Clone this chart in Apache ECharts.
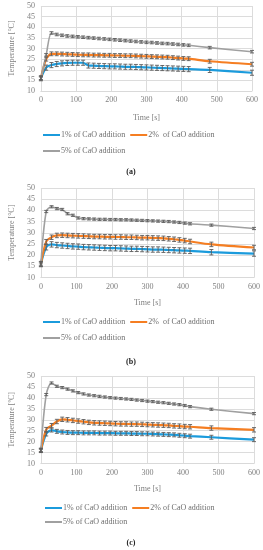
<!DOCTYPE html>
<html><head><meta charset="utf-8">
<script src="https://cdn.jsdelivr.net/npm/echarts@6/dist/echarts.min.js"></script>
<style>html,body{margin:0;padding:0;background:#fff}#c{width:263px;height:550px}</style>
</head><body><div id="c"></div>
<script>
var times = [0,15,30,45,60,75,90,105,120,135,150,165,180,195,210,225,240,255,270,285,300,315,330,345,360,375,390,405,420,480,600];
var seriesNames = ['1% of CaO addition', '2%  of CaO addition', '5% of CaO addition'];
var seriesNamesC = ['1% of CaO addition', '2% of CaO addition', '5% of CaO addition'];
var yTitles = ['Temperature [°C]', 'Temperature [°C]', 'Temperature [ºC]'];
var xTitle = 'Time [s]';
var captions = ['(a)', '(b)', '(c)'];

// panel (a)
var a1 = [16,21,22.2,22.7,23,23.2,23.3,23.3,23.3,22,21.9,21.8,21.7,21.6,21.6,21.5,21.4,21.4,21.3,21.2,21.1,21,20.9,20.8,20.7,20.6,20.5,20.4,20.3,19.9,18.6];
var a2 = [16,25,27.5,27.5,27.4,27.3,27.2,27.1,27,27,26.9,26.9,26.8,26.8,26.7,26.7,26.6,26.6,26.5,26.4,26.3,26.2,26.1,26,25.9,25.7,25.5,25.3,25.2,24,22.6];
var a3 = [16,27,37.3,36.6,36.2,35.9,35.7,35.5,35.3,35.1,34.9,34.7,34.5,34.3,34.1,33.9,33.7,33.5,33.3,33.1,32.9,32.8,32.6,32.4,32.3,32.1,31.9,31.7,31.5,30.4,28.5];
var aErr = [1.2, 0.9, 0.6];
// panel (b)
var b1 = [16,23.5,24.8,24.5,24.3,24.1,23.9,23.8,23.6,23.5,23.4,23.3,23.2,23.1,23.1,23,22.9,22.8,22.8,22.7,22.6,22.5,22.5,22.4,22.3,22.2,22.1,22,21.9,21.3,20.7];
var b2 = [16,26,28,28.8,28.9,28.8,28.7,28.6,28.5,28.4,28.3,28.3,28.2,28.2,28.1,28.1,28,28,27.9,27.8,27.8,27.7,27.6,27.5,27.3,27.1,26.8,26.5,26.1,24.8,23.4];
var b3 = [16,39.5,41.6,40.8,40.4,38.5,37.8,36.6,36.3,36.2,36.1,36,36,35.9,35.9,35.8,35.8,35.7,35.6,35.5,35.4,35.3,35.2,35.1,35,34.8,34.6,34.3,34,33.4,31.9];
var bErr = [1.2, 1.0, 0.5];
// panel (c)
var c1 = [16,23.5,25.3,24.7,24.4,24.2,24.1,24.1,24,24,24,23.9,23.9,23.9,23.8,23.8,23.8,23.7,23.7,23.6,23.6,23.5,23.4,23.3,23.2,23.1,22.9,22.7,22.5,22,20.9];
var c2 = [16,25.5,27.3,29.2,30.2,30,29.7,29.4,29.1,28.8,28.6,28.5,28.4,28.3,28.2,28.1,28.1,28,28,27.9,27.8,27.7,27.6,27.5,27.4,27.2,27.1,26.9,26.8,26.2,25.4];
var c3 = [16,41.5,46.8,45.3,44.7,44,43.2,42.4,41.8,41.3,41,40.7,40.4,40.1,39.9,39.7,39.5,39.3,39,38.8,38.5,38.3,38,37.8,37.5,37.2,36.9,36.5,36,34.8,32.8];
var cErr = [0.9, 1.0, 0.5];

var colors = ['#1B9BDC', '#F57E22', '#A0A0A0'];
var errColor = '#5A5A5A';
var FONT = '"Liberation Serif", serif';
var txtColor = '#7F7F7F';

var panels = [
  {vals:[a1,a2,a3], err:aErr, names:seriesNames, grid:{left:30,right:11,top:6,height:85}, xGap:23, leg:[131,147], legLeft:43, cap:172},
  {vals:[b1,b2,b3], err:bErr, names:seriesNames, grid:{left:28,right:8,top:188,height:89.5}, xGap:21, leg:[318,334], legLeft:43, cap:362},
  {vals:[c1,c2,c3], err:cErr, names:seriesNamesC, grid:{left:28,right:8,top:376,height:87.5}, xGap:21, leg:[504,518], legLeft:45, cap:543}
];

var grids=[], xAxes=[], yAxes=[], series=[], legends=[], graphics=[];
panels.forEach(function(p, i){
  grids.push(Object.assign({containLabel:false}, p.grid));
  xAxes.push({type:'value', gridIndex:i, min:0, max:600, interval:100,
    name:xTitle, nameLocation:'middle', nameGap:p.xGap,
    nameTextStyle:{fontFamily:FONT, fontSize:8, color:txtColor},
    axisLine:{show:true, lineStyle:{color:'#D9D9D9', width:1}},
    axisTick:{show:false},
    axisLabel:{fontFamily:FONT, fontSize:8, color:txtColor, margin:5},
    splitLine:{show:true, lineStyle:{color:'#DCDCDC', width:1}}});
  yAxes.push({type:'value', gridIndex:i, min:10, max:50, interval:5,
    name:yTitles[i], nameLocation:'middle', nameGap:20,
    nameTextStyle:{fontFamily:FONT, fontSize:8, color:txtColor},
    axisLine:{show:false}, axisTick:{show:false},
    axisLabel:{fontFamily:FONT, fontSize:8, color:txtColor, margin:6},
    splitLine:{show:true, lineStyle:{color:'#DCDCDC', width:1}}});
  p.vals.forEach(function(v, k){
    series.push({type:'line', name:p.names[k], xAxisIndex:i, yAxisIndex:i,
      data: times.map(function(t, j){return [t, v[j]];}),
      smooth:0.3, showSymbol:false, symbol:'none',
      lineStyle:{color:colors[k], width:k===2?1.6:2.2}, itemStyle:{color:colors[k]}, z:2+k});
  });
  p.vals.forEach(function(v, k){
    series.push({type:'custom', xAxisIndex:i, yAxisIndex:i, z:10,
      data: times.map(function(t, j){return [t, v[j], p.err[k]];}),
      renderItem:function(params, api){
        var x=api.value(0), y=api.value(1), e=api.value(2);
        var top=api.coord([x, y+e]), bot=api.coord([x, y-e]);
        var w=2;
        var st={stroke:errColor, lineWidth:0.9};
        return {type:'group', children:[
          {type:'line', shape:{x1:top[0],y1:top[1],x2:bot[0],y2:bot[1]}, style:st},
          {type:'line', shape:{x1:top[0]-w,y1:top[1],x2:top[0]+w,y2:top[1]}, style:st},
          {type:'line', shape:{x1:bot[0]-w,y1:bot[1],x2:bot[0]+w,y2:bot[1]}, style:st}
        ]};
      }});
  });
  var legBase = {orient:'horizontal', icon:'rect', itemWidth:17, itemHeight:2, itemGap:5,
    textStyle:{fontFamily:FONT, fontSize:8, color:'#6E6E6E', padding:[0,0,0,-4]}, padding:0, selectedMode:false};
  legends.push(Object.assign({}, legBase, {left:p.legLeft, top:p.leg[0], data:[p.names[0], p.names[1]]}));
  legends.push(Object.assign({}, legBase, {left:p.legLeft, top:p.leg[1], data:[p.names[2]]}));
  graphics.push({type:'text', x:131, y:p.cap, style:{text:captions[i], fontFamily:FONT, fontSize:8, fontWeight:'bold', fill:'#222', textAlign:'center', textVerticalAlign:'middle'}});
});

var chart = echarts.init(document.getElementById('c'), null, {renderer:'canvas'});
chart.setOption({animation:false, backgroundColor:'#fff', grid:grids, xAxis:xAxes, yAxis:yAxes, series:series, legend:legends, graphic:graphics});
</script></body></html>
